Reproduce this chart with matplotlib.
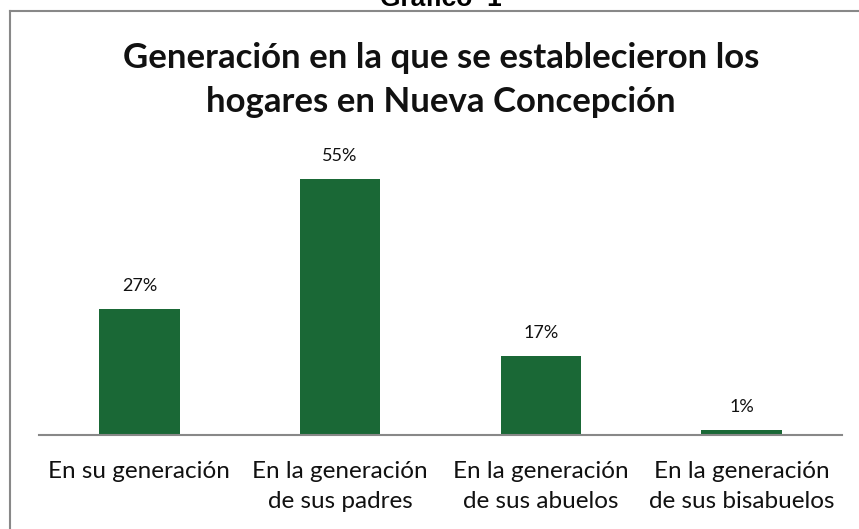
import matplotlib
matplotlib.use("Agg")
import matplotlib.pyplot as plt
from matplotlib.lines import Line2D

categories = ["En su generación", "En la generación\nde sus padres",
              "En la generación\nde sus abuelos", "En la generación\nde sus bisabuelos"]
values = [27, 55, 17, 1]
labels = ["27%", "55%", "17%", "1%"]
title = "Generación en la que se establecieron los\nhogares en Nueva Concepción"
header = "Gráfico  1"

W, H = 859, 529
fig = plt.figure(figsize=(W / 100, H / 100), dpi=100)
plt.rcParams['font.family'] = ['Lato', 'DejaVu Sans']

# frame (top and left visible)
fig.add_artist(Line2D([10 / W, 10 / W], [0, 1 - 10.5 / H], color="#888888", lw=1.5, transform=fig.transFigure))
fig.add_artist(Line2D([10 / W, 1], [1 - 10.5 / H, 1 - 10.5 / H], color="#888888", lw=1.5, transform=fig.transFigure))

fig.text(441 / W, 1 - 6 / H, header, ha="center", va="baseline", fontsize=19, fontweight="bold",
         family=["Liberation Sans", "DejaVu Sans"])

ax_left, ax_right = 39 / W, 842 / W
ax_bottom = 1 - 435 / H
ax_top = 1 - 156 / H
ax = fig.add_axes([ax_left, ax_bottom, ax_right - ax_left, ax_top - ax_bottom])
x = range(len(values))
bars = ax.bar(x, values, width=0.4, color="#1a6836")
ax.set_xlim(-0.5, 3.5)
ax.set_ylim(0, 60)
for s in ["top", "right", "left"]:
    ax.spines[s].set_visible(False)
ax.spines["bottom"].set_color("#888888")
ax.spines["bottom"].set_linewidth(1.5)
ax.set_yticks([])
ax.set_xticks(list(x))
ax.set_xticklabels(categories, fontsize=17.5, color="#111111", linespacing=1.5)
ax.tick_params(axis="x", length=0, pad=19)
for xi, v, lab in zip(x, values, labels):
    ax.annotate(lab, (xi, v), xytext=(0, 11), textcoords="offset points", ha="center",
                va="bottom", fontsize=13, color="#111111")

fig.text(441 / W, 1 - 68 / H, title.split("\n")[0], ha="center", va="baseline",
         fontsize=25, fontweight="bold", color="#111111")
fig.text(441 / W, 1 - 112 / H, title.split("\n")[1], ha="center", va="baseline",
         fontsize=25, fontweight="bold", color="#111111")

fig.savefig("out.png", dpi=100)
